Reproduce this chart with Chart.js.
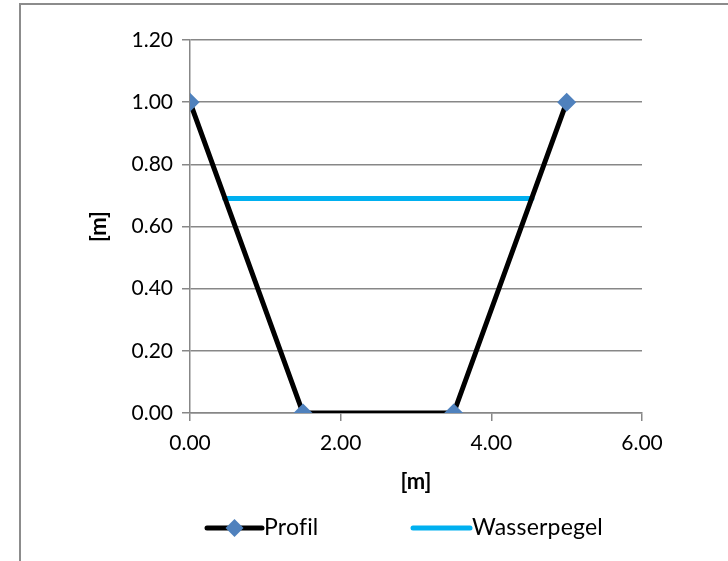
<!DOCTYPE html>
<html>
<head>
<meta charset="utf-8">
<script src="https://cdn.jsdelivr.net/npm/chart.js@4/dist/chart.umd.min.js"></script>
<style>
html,body{margin:0;padding:0;background:#fff;}
#wrap{position:relative;width:728px;height:561px;}
</style>
</head>
<body>
<div id="wrap"><canvas id="c" width="728" height="561"></canvas></div>
<script>
// ---- data ----
const profilX = [0, 1.5, 3.5, 5];
const profilY = [1, 0, 0, 1];
const pegelX = [0.46, 4.54];
const pegelY = [0.69, 0.69];
const seriesNames = ['Profil', 'Wasserpegel'];
const xAxisTitle = '[m]';
const yAxisTitle = '[m]';
const xTicks = [0, 2, 4, 6];
const yTicks = [0, 0.2, 0.4, 0.6, 0.8, 1.0, 1.2];

const FONT = 'Lato, "Open Sans", sans-serif';
const FS = 21;
const FS_TITLE = 22;
const FS_LEGEND = 23;
const GRID = '#878787';
const PROFIL_COLOR = '#000000';
const MARKER_COLOR = '#4F81BD';
const PEGEL_COLOR = '#00B0F0';

const toPts = (xs, ys) => xs.map((x, i) => ({x: x, y: ys[i]}));

const framePlugin = {
  id: 'frame',
  beforeDraw(chart) {
    const ctx = chart.ctx;
    ctx.save();
    ctx.fillStyle = '#fff';
    ctx.fillRect(0, 0, chart.width, chart.height);
    ctx.strokeStyle = '#8c8c8c';
    ctx.lineWidth = 2;
    ctx.strokeRect(20, 4, 900, 900);
    ctx.restore();
  }
};

const legendPlugin = {
  id: 'customLegend',
  afterDraw(chart) {
    const ctx = chart.ctx;
    const y = 528;
    const items = [
      {x0: 207, x1: 262, color: PROFIL_COLOR, marker: true, text: seriesNames[0]},
      {x0: 413, x1: 470, color: PEGEL_COLOR, marker: false, text: seriesNames[1]}
    ];
    ctx.save();
    items.forEach(it => {
      ctx.strokeStyle = it.color;
      ctx.lineWidth = 5;
      ctx.lineCap = 'round';
      ctx.beginPath();
      ctx.moveTo(it.x0, y);
      ctx.lineTo(it.x1, y);
      ctx.stroke();
      if (it.marker) {
        const cx = (it.x0 + it.x1) / 2, r = 9;
        ctx.fillStyle = MARKER_COLOR;
        ctx.beginPath();
        ctx.moveTo(cx, y - r); ctx.lineTo(cx + r, y); ctx.lineTo(cx, y + r); ctx.lineTo(cx - r, y);
        ctx.closePath();
        ctx.fill();
      }
      ctx.fillStyle = '#000';
      ctx.font = FS_LEGEND + 'px ' + FONT;
      if ('letterSpacing' in ctx) ctx.letterSpacing = '0.2px';
      ctx.textBaseline = 'middle';
      ctx.textAlign = 'left';
      ctx.fillText(it.text, it.x1 + 2, y);
    });
    ctx.restore();
  }
};

new Chart(document.getElementById('c'), {
  type: 'scatter',
  data: {
    datasets: [
      {
        label: seriesNames[0],
        data: toPts(profilX, profilY),
        showLine: true,
        borderColor: PROFIL_COLOR,
        borderWidth: 5,
        borderCapStyle: 'round',
        borderJoinStyle: 'round',
        pointStyle: 'rectRot',
        pointRadius: 9.5,
        pointBackgroundColor: MARKER_COLOR,
        pointBorderColor: MARKER_COLOR,
        pointBorderWidth: 0,
        tension: 0
      },
      {
        label: seriesNames[1],
        data: toPts(pegelX, pegelY),
        showLine: true,
        borderColor: PEGEL_COLOR,
        borderWidth: 5,
        borderCapStyle: 'round',
        pointRadius: 0,
        tension: 0
      }
    ]
  },
  options: {
    responsive: false,
    animation: false,
    devicePixelRatio: 1,
    layout: {padding: {left: 86, right: 86, top: 40, bottom: 66}},
    plugins: {
      legend: {display: false},
      tooltip: {enabled: false}
    },
    scales: {
      x: {
        type: 'linear',
        min: 0, max: 6,
        afterBuildTicks: s => { s.ticks = xTicks.map(v => ({value: v})); },
        afterFit: s => { s.height = 82; },
        ticks: {
          color: '#000',
          font: {family: FONT, size: FS},
          padding: 10,
          callback: v => Number(v).toFixed(2)
        },
        grid: {display: true, drawOnChartArea: false, drawTicks: true, tickLength: 8, color: GRID, lineWidth: 1.5},
        border: {display: true, color: GRID, width: 1.5},
        title: {display: true, text: xAxisTitle, color: '#000', font: {family: FONT, size: FS_TITLE, weight: 'bold'}, padding: {top: 0, bottom: 0}}
      },
      y: {
        type: 'linear',
        min: 0, max: 1.2,
        afterBuildTicks: s => { s.ticks = yTicks.map(v => ({value: v})); },
        afterFit: s => { s.width = 104; },
        ticks: {
          color: '#000',
          font: {family: FONT, size: FS},
          padding: 9,
          callback: v => Number(v).toFixed(2)
        },
        grid: {display: true, drawOnChartArea: true, drawTicks: true, tickLength: 8, color: GRID, lineWidth: 1.5},
        border: {display: true, color: GRID, width: 1.5},
        title: {display: true, text: yAxisTitle, color: '#000', font: {family: FONT, size: FS_TITLE, weight: 'bold'}, padding: {top: 0, bottom: 0}}
      }
    }
  },
  plugins: [framePlugin, legendPlugin]
});
</script>
</body>
</html>
